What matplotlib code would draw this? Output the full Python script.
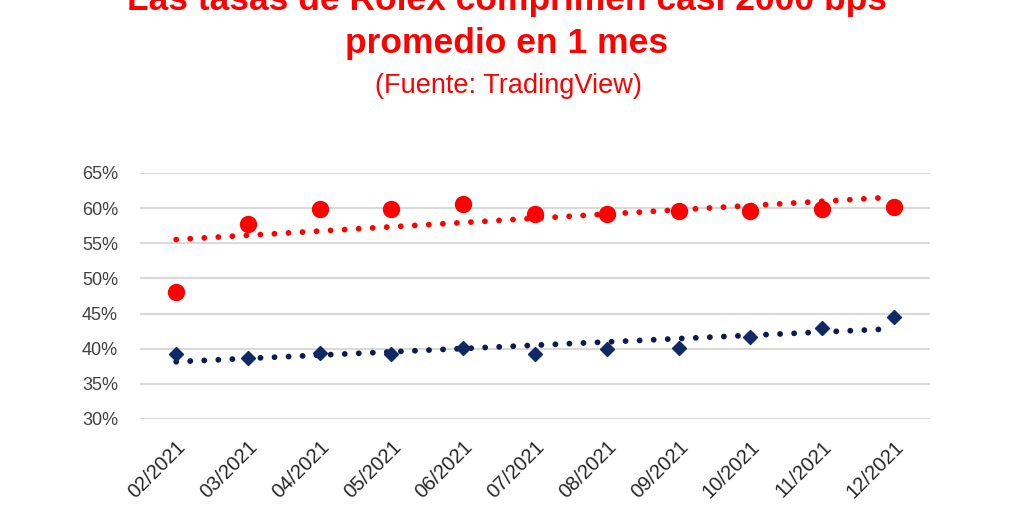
import numpy as np
import matplotlib.pyplot as plt
from matplotlib.ticker import FuncFormatter

months = ['02/2021', '03/2021', '04/2021', '05/2021', '06/2021', '07/2021',
          '08/2021', '09/2021', '10/2021', '11/2021', '12/2021']
rolex_red = [48.1, 57.7, 59.9, 59.9, 60.6, 59.2, 59.2, 59.6, 59.6, 59.9, 60.2]
rolex_blue = [39.3, 38.7, 39.4, 39.3, 40.1, 39.3, 40.0, 40.1, 41.7, 43.0, 44.5]
yticks = [30, 35, 40, 45, 50, 55, 60, 65]

red = '#FF0000'
navy = '#0E2A66'
navy_dark = '#0A1A4F'

plt.rcParams['font.family'] = ['Liberation Sans', 'DejaVu Sans']

fig = plt.figure(figsize=(10.24, 5.16), dpi=100)
ax = fig.add_axes([0.137, 0.188, 0.771, 0.477])

x = np.arange(len(months))

# linear trend lines (like Excel's), fitted on the series
for vals, col in [(rolex_red, red), (rolex_blue, navy_dark)]:
    k, b = np.polyfit(x, vals, 1)
    xt = np.array([0, len(months) - 1.2])
    ax.plot(xt, k * xt + b, color=col, lw=4.2, linestyle=(0, (0.01, 2.4)),
            dash_capstyle='round', zorder=2)

ax.plot(x, rolex_red, 'o', color=red, ms=11.5, zorder=3)
ax.plot(x, rolex_blue, 'D', color=navy, ms=7, zorder=3)

ax.set_xlim(-0.5, len(months) - 0.5)
ax.set_ylim(30, 65)
ax.set_yticks(yticks)
ax.yaxis.set_major_formatter(FuncFormatter(lambda v, p: f'{v:.0f}%'))
ax.grid(axis='y', color='#D9D9D9', lw=1.5)
ax.set_axisbelow(True)
for s in ax.spines.values():
    s.set_visible(False)
ax.tick_params(length=0)
ax.tick_params(axis='y', labelsize=13, labelcolor='#404040', pad=16)
ax.set_xticks(x)
ax.set_xticklabels(months, rotation=45, ha='right', rotation_mode='anchor',
                   fontsize=14.5, color='#262626')
ax.tick_params(axis='x', pad=13)

fig.text(0.495, 0.981, 'Las tasas de Rolex comprimen casi 2000 bps',
         ha='center', va='baseline', fontsize=25.5, fontweight='bold', color=red)
fig.text(0.495, 0.897, 'promedio en 1 mes',
         ha='center', va='baseline', fontsize=25.5, fontweight='bold', color=red)
fig.text(0.497, 0.833, '(Fuente: TradingView)',
         ha='center', va='center', fontsize=19.5, color=red)

fig.savefig('out.png', dpi=100)
